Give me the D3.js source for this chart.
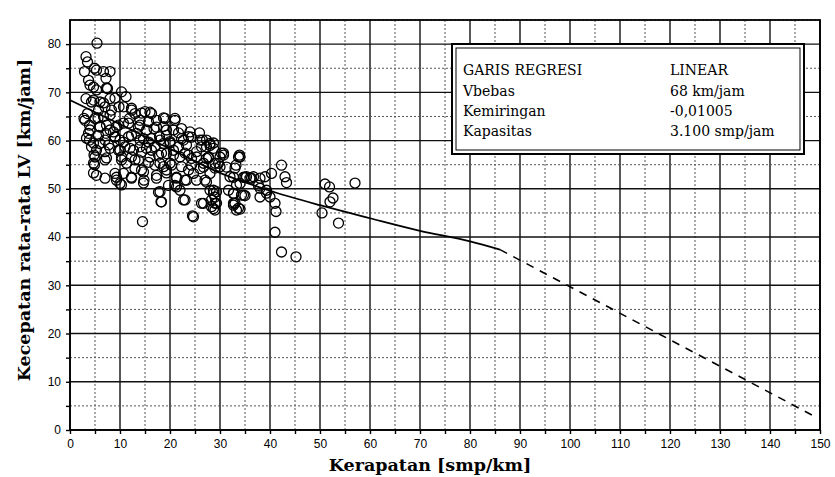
<html>
<meta charset="utf-8">

<head>
    <script src="https://cdn.jsdelivr.net/npm/d3@7" type="text/javascript"></script>
    <style>
        body { margin: 0; background: #fff; }
        .tick text { font-family: "Liberation Sans", Arial, sans-serif; font-size: 12px; fill: #000; }
    </style>
</head>

<body>
    <div id="center"></div>

    <script>
    // titik pengamatan: [kerapatan, kecepatan]
    var titik = [
        [3.2,77.4],[3.5,76.3],[2.9,74.3],[3.7,72.5],[4,71.5],[3.2,68.7],[2.8,64.6],[3.5,65.6],[3.9,63.2],[3.7,61.5],
        [3.9,60.1],[4.3,58.7],[4.8,57],[4.9,55],[5.3,52.8],[4.7,71.1],[4.3,68],[3,64.2],[4,62.2],[3.3,60.5],
        [4.7,59.5],[4.7,55.3],[4.7,53.3],[4.9,75],
        [5.4,80.2],[5.3,74.6],[6.7,74.3],[8,74.3],[7.2,72.9],[5.3,70.5],[7.5,70.8],[4.7,68.4],[6,68],[8,68.7],
        [5.7,66.3],[7,67],[5,64.6],[6.7,65],[8,65.3],[6,62.9],[7.3,63.2],[5.7,61.1],[7.2,61.5],[8.7,61.8],
        [6,59.4],[7.7,59.1],[7,57.7],[7,56],[7,52.2],[9,53.2],[9.3,51.8],[10,51.1],[10.3,50.8],[12.3,52.2],
        [10.7,53.2],[7.3,70.9],[9,68.8],[6.7,67.8],[8.3,66.3],[5.6,64.7],[6,62.8],[8,62.2],[7,60.1],[9,60.7],
        [5.3,58],[8,58.4],[5,56.6],[7.3,56.4],[9.3,52.4],
        [10.3,70.1],[11.2,69.1],[9.8,67],[12.3,66.7],[13,65.6],[9.3,62.9],[10.7,63.6],[11.9,64.6],[9,60.8],[10,60.1],
        [11.7,60.8],[13.3,61.5],[14,63.2],[9.7,58],[11,58.7],[12.7,58],[14,58.7],[10.3,56.6],[12.3,56.6],[13.7,56],
        [11.3,55.3],[14.3,53.9],[14.8,51.8],[14.5,43.2],[13,54.2],[10.7,67],[12.3,66.3],[14.3,65.7],[9.7,63.2],[11.7,63.6],
        [13.7,62.8],[10.7,59.7],[12.3,61.1],[14,60.1],[10,58],[12,58.4],[14.3,57.6],[10.3,56],[13,56],[12.3,52.4],
        [15,66],[16.3,65.6],[14,64.2],[15.7,63.9],[17.3,64.2],[15.3,62.2],[16.8,62.5],[18.7,62.9],[14.7,60.4],[16.3,60.4],
        [17.9,60.8],[19.3,61.1],[19,64.6],[21,64.6],[15.3,58.4],[17,58.7],[18.7,59.4],[20,59.8],[16,56.6],[17.7,57],
        [19.3,57.3],[20.7,58],[17,54.9],[18.7,54.6],[20,55.3],[17.3,52.8],[19.3,53.9],[18,49.4],[18.2,47.3],[19.7,50.7],
        [21,50.7],[16,65.9],[18.7,64.7],[17.3,62.8],[19.3,62.2],[15.7,59.7],[18,60.1],[20,59.5],[16.3,58],[18.3,57.4],
        [15.7,55.5],[18,55.3],[20.3,54.9],[14.7,53.5],[17.3,52.2],[19.3,53.3],[14.7,51.2],[17.7,49.3],[18.3,47.3],
        [22.3,62.5],[20.7,62.2],[23.7,60.8],[22.3,60.4],[21.7,58.7],[23.3,59.1],[24,61.8],[25.9,61.6],[22,56.6],[23.7,57],
        [25.3,57.7],[24.3,56.3],[22.3,54.6],[23.7,53.9],[21.3,52.2],[23,51.8],[24.7,53.2],[26,54.2],[22,49.7],[22.7,47.7],
        [24.5,44.4],[26.7,47],[27.3,60.1],[26.3,58.7],[27.7,56.6],[27,51.8],[28,53.2],[26.7,55.3],[21,64.2],[21.7,61.6],
        [22.7,60.1],[24.3,60.7],[26,60.1],[20.7,57],[23,57.4],[25.3,56.6],[24.3,54.9],[26.7,54.5],[21.3,52.4],[23.3,51.8],
        [25.3,51.8],[21.3,50.4],[23,47.7],[24.7,44.2],[26.5,60.1],
        [28,59.4],[28.7,58.4],[29,55.3],[28,49.7],[28.7,49],[28.3,47.7],[29,47],[29.3,49.4],[28.7,45.9],[30,54.6],
        [30.7,57],[32,52.5],[31.7,49.7],[32.7,49],[33,47],[33.7,46],[33.9,57],[33.2,54.9],[35,48.6],[34,51.1],
        [35.3,52.5],[28,59],[30.7,57.4],[33.7,56.6],[27.3,56.3],[29.7,55.3],[33,54.3],[28.7,59.5],[27.3,58.7],[27.7,56.4],
        [30,56.6],[29,54.3],[31.3,54.5],[32.7,52.4],[34,56.6],[30.3,57.4],[27.3,51.4],[28.7,49.7],[29,48.3],[28.3,46.3],
        [26.3,47],[32.7,47],[34,45.8],[33.3,50.8],[34.7,48.7],[34.7,52.4],[36,52.2],[29.3,47],[29,45.6],[32.7,46.6],
        [33.3,45.6],[32.7,49.1],[34.3,48.7],
        [36.7,52.5],[38,52.2],[39,52.5],[37.7,50.7],[39.3,49.7],[40,48.3],[40.3,53.2],[41,47],[41.2,45.3],[41,41],
        [42.3,54.9],[43,52.5],[43.3,51.3],[42.3,36.9],[45.2,35.9],[38,50.1],[39.3,49.1],[38,48.3],[51,51],[51.9,50.4],
        [52.6,48.1],[52,47.3],[50.4,45],[53.7,42.9],[57,51.2],[36.3,52.2],[35,52.4]
    ];

    // garis regresi
    var garisPenuh = [[0,68.4],[10,63.4],[20,58.3],[30,53.3],[40,49.6],[50,46.6],[60,43.9],[70,41.3],[80,39.1],[86,37.4]];
    var garisPutus = [[86,37.4],[149.5,2.5]];

    var xTicks = d3.range(0, 151, 5);
    var yTicks = d3.range(0, 86, 5);

    var legendaKiri = ["GARIS REGRESI", "Vbebas", "Kemiringan", "Kapasitas"];
    var legendaKanan = ["LINEAR", "68 km/jam", "-0,01005", "3.100 smp/jam"];

    var w = 835, h = 477;
    var pLeft = 70, pRight = 820, pTop = 20, pBottom = 430;

    var x = d3.scaleLinear().domain([0, 150]).range([pLeft, pRight]);
    var y = d3.scaleLinear().domain([0, 85]).range([pBottom, pTop]);

    var svg = d3.select("#center")
        .append("svg")
        .attr("width", w)
        .attr("height", h);

    // grid
    svg.selectAll("line.vx")
        .data(xTicks)
        .enter()
        .append("line")
        .attr("x1", function(d) { return x(d); })
        .attr("x2", function(d) { return x(d); })
        .attr("y1", pTop)
        .attr("y2", pBottom)
        .attr("stroke", function(d) { return d % 10 == 0 ? "#111" : "#555"; })
        .attr("stroke-width", function(d) { return d % 10 == 0 ? 1.4 : 1; })
        .attr("stroke-dasharray", function(d) { return d % 10 == 0 ? null : "2,2"; });

    svg.selectAll("line.hy")
        .data(yTicks)
        .enter()
        .append("line")
        .attr("y1", function(d) { return y(d); })
        .attr("y2", function(d) { return y(d); })
        .attr("x1", pLeft)
        .attr("x2", pRight)
        .attr("stroke", function(d) { return d % 10 == 0 ? "#111" : "#555"; })
        .attr("stroke-width", function(d) { return d % 10 == 0 ? 1.4 : 1; })
        .attr("stroke-dasharray", function(d) { return d % 10 == 0 ? null : "2,2"; });

    svg.append("rect")
        .attr("x", pLeft)
        .attr("y", pTop)
        .attr("width", pRight - pLeft)
        .attr("height", pBottom - pTop)
        .attr("fill", "none")
        .attr("stroke", "#000")
        .attr("stroke-width", 1.8);

    // axes
    var xAxis = d3.axisBottom(x)
        .tickValues(xTicks)
        .tickSize(4)
        .tickPadding(5)
        .tickFormat(function(d) { return d % 10 == 0 ? d : ""; });

    var yAxis = d3.axisLeft(y)
        .tickValues(yTicks.filter(function(d) { return d < 85; }))
        .tickSize(4)
        .tickPadding(5)
        .tickFormat(function(d) { return d % 10 == 0 ? d : ""; });

    var gx = svg.append("g").attr("transform", "translate(0," + pBottom + ")").call(xAxis);
    var gy = svg.append("g").attr("transform", "translate(" + pLeft + ",0)").call(yAxis);
    gx.select(".domain").remove();
    gy.select(".domain").remove();
    gx.selectAll(".tick line").attr("stroke-width", 1.4);
    gy.selectAll(".tick line").attr("stroke-width", 1.4);

    // regresi
    var line = d3.line()
        .x(function(d) { return x(d[0]); })
        .y(function(d) { return y(d[1]); })
        .curve(d3.curveMonotoneX);

    svg.append("path")
        .attr("d", line(garisPenuh))
        .attr("fill", "none")
        .attr("stroke", "#000")
        .attr("stroke-width", 1.8);

    svg.append("path")
        .attr("d", line(garisPutus))
        .attr("fill", "none")
        .attr("stroke", "#000")
        .attr("stroke-width", 1.6)
        .attr("stroke-dasharray", "8,7");

    // titik
    svg.selectAll("circle")
        .data(titik)
        .enter()
        .append("circle")
        .attr("cx", function(d) { return x(d[0]); })
        .attr("cy", function(d) { return y(d[1]); })
        .attr("r", 5)
        .attr("fill", "none")
        .attr("stroke", "#000")
        .attr("stroke-width", 1.3);

    // kotak legenda
    svg.append("rect")
        .attr("x", 452).attr("y", 44)
        .attr("width", 352).attr("height", 110)
        .attr("fill", "#fff")
        .attr("stroke", "#000")
        .attr("stroke-width", 2);

    svg.append("rect")
        .attr("x", 456).attr("y", 48)
        .attr("width", 344).attr("height", 102)
        .attr("fill", "none")
        .attr("stroke", "#000")
        .attr("stroke-width", 1);

    var rowY = [75, 95.5, 115.5, 135.5];
    var serif = "'DejaVu Serif', 'Liberation Serif', serif";

    svg.selectAll("text.kiri")
        .data(legendaKiri)
        .enter()
        .append("text")
        .attr("x", 463)
        .attr("y", function(d, i) { return rowY[i]; })
        .style("font-family", serif)
        .style("font-size", "14px")
        .text(function(d) { return d; });

    svg.selectAll("text.kanan")
        .data(legendaKanan)
        .enter()
        .append("text")
        .attr("x", 670)
        .attr("y", function(d, i) { return rowY[i]; })
        .style("font-family", serif)
        .style("font-size", "14px")
        .text(function(d) { return d; });

    // judul sumbu
    svg.append("text")
        .attr("x", 430)
        .attr("y", 471)
        .attr("text-anchor", "middle")
        .style("font-family", serif)
        .style("font-weight", "bold")
        .style("font-size", "17.5px")
        .text("Kerapatan [smp/km]");

    svg.append("text")
        .attr("transform", "translate(30,220) rotate(-90)")
        .attr("text-anchor", "middle")
        .style("font-family", serif)
        .style("font-weight", "bold")
        .style("font-size", "17.5px")
        .text("Kecepatan rata-rata LV [km/jam]");
    </script>
</body>

</html>
